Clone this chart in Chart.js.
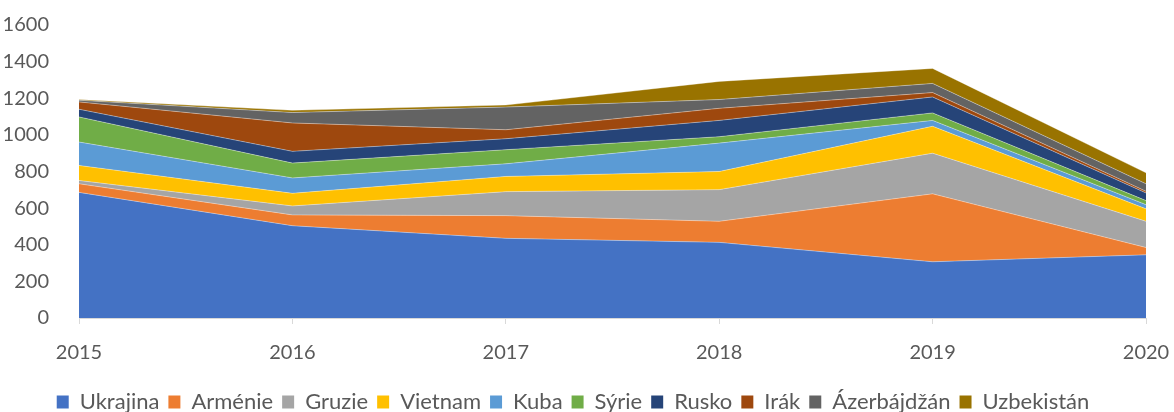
<!DOCTYPE html>
<html>
<head>
<meta charset="utf-8">
<script src="https://cdn.jsdelivr.net/npm/chart.js@4/dist/chart.umd.min.js"></script>
<style>
  html, body { margin: 0; padding: 0; background: #fff; }
</style>
</head>
<body>
<canvas id="chart" width="1174" height="412"></canvas>
<script>
let years = ["2015", "2016", "2017", "2018", "2019", "2020"];

let ukrajina   = [686, 504, 435, 413, 307, 345];
let armenie    = [47, 59, 124, 115, 371, 40];
let gruzie     = [18, 49, 131, 173, 222, 143];
let vietnam    = [82, 69, 83, 99, 147, 68];
let kuba       = [128, 84, 69, 155, 32, 23];
let syrie      = [137, 81, 77, 35, 41, 22];
let rusko      = [42, 64, 60, 89, 87, 42];
let irak       = [40, 155, 49, 66, 24, 9];
let azerbajdzan = [9, 57, 124, 48, 50, 41];
let uzbekistan = [4, 12, 11, 99, 82, 60];

let series = [
    ["Ukrajina", ukrajina, "#4472C4"],
    ["Arménie", armenie, "#ED7D31"],
    ["Gruzie", gruzie, "#A5A5A5"],
    ["Vietnam", vietnam, "#FFC000"],
    ["Kuba", kuba, "#5B9BD5"],
    ["Sýrie", syrie, "#70AD47"],
    ["Rusko", rusko, "#264478"],
    ["Irák", irak, "#9E480E"],
    ["Ázerbájdžán", azerbajdzan, "#636363"],
    ["Uzbekistán", uzbekistan, "#997300"]
];

let font = { family: "Lato, 'Open Sans', sans-serif", size: 20 };
let legendFont = { family: "Lato, 'Open Sans', sans-serif", size: 22 };

let datasets = series.map(function (s, i) {
    return {
        label: s[0],
        data: s[1],
        backgroundColor: s[2],
        borderColor: "rgba(255,255,255,0.45)",
        borderWidth: 0.8,
        pointRadius: 0,
        fill: i === 0 ? "origin" : "-1",
        tension: 0
    };
});

new Chart(document.getElementById("chart").getContext("2d"), {
    type: "line",
    data: { labels: years, datasets: datasets },
    options: {
        responsive: false,
        animation: false,
        layout: { padding: { top: 25, right: 28, left: 0, bottom: -11 } },
        plugins: {
            legend: {
                position: "bottom",
                labels: {
                    boxWidth: 12,
                    boxHeight: 13,
                    padding: 9,
                    color: "#595959",
                    font: legendFont,
                    generateLabels: function (chart) {
                        return chart.data.datasets.map(function (d, i) {
                            return {
                                text: d.label,
                                fillStyle: d.backgroundColor,
                                strokeStyle: d.backgroundColor,
                                lineWidth: 0,
                                datasetIndex: i,
                                fontColor: "#595959"
                            };
                        });
                    }
                }
            },
            tooltip: { enabled: false }
        },
        scales: {
            x: {
                offset: false,
                grid: { drawOnChartArea: false, color: "#D9D9D9", tickLength: 6 },
                border: { color: "#D9D9D9", width: 1 },
                ticks: { color: "#595959", font: font, padding: 17, maxRotation: 0 },
                afterFit: function (scale) {
                    scale.height = 64;
                    scale.paddingRight = 0;
                    scale.paddingLeft = 0;
                }
            },
            y: {
                stacked: true,
                min: 0,
                max: 1600,
                grid: { display: false },
                border: { display: false },
                ticks: {
                    stepSize: 200,
                    color: "#595959",
                    font: font,
                    padding: 22,
                    callback: function (v) { return String(v); }
                },
                afterFit: function (scale) {
                    scale.width = 79;
                    scale.paddingTop = 0;
                    scale.paddingBottom = 0;
                }
            }
        }
    }
});
</script>
</body>
</html>
